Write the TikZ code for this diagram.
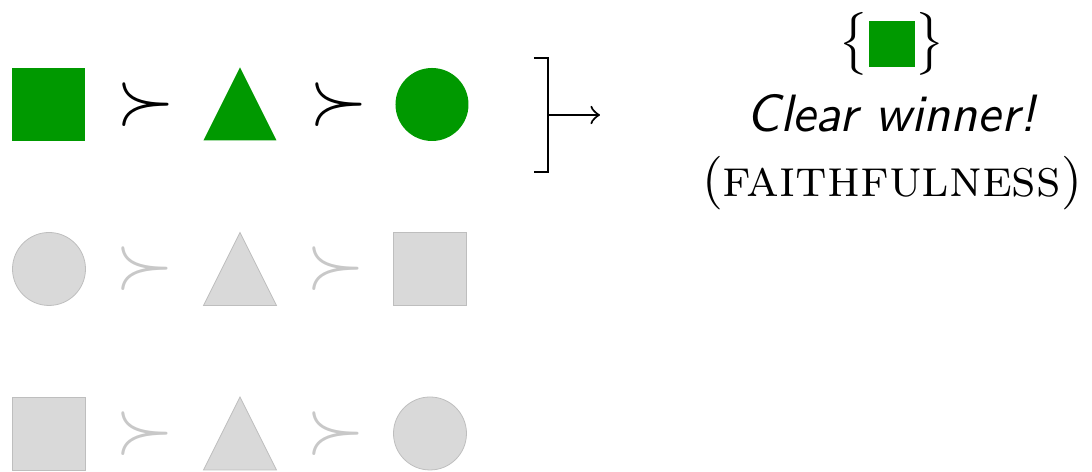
\documentclass[tikz,border=0pt]{standalone}
\usetikzlibrary{shapes.geometric}
\definecolor{winner}{RGB}{0,153,0}
\definecolor{faded}{RGB}{217,217,217}
\definecolor{fadedline}{RGB}{190,190,190}
\definecolor{fadedrel}{RGB}{200,200,200}
\tikzset{
  shapebase/.style={inner sep=0pt, outer sep=0pt},
  sq/.style={shapebase, rectangle, minimum size=73*0.1905pt},
  circ/.style={shapebase, circle, minimum size=73*0.1905pt},
  % triangles are placed by their apex
  tri/.style={shapebase, isosceles triangle, isosceles triangle stretches,
    shape border rotate=90, minimum width=73*0.1905pt, minimum height=73*0.1905pt,
    anchor=apex},
  win/.style={fill=winner},
  lose/.style={fill=faded, draw=fadedline, line width=0.15pt},
  rel/.style={inner sep=0pt, font=\Large},
  winrel/.style={rel, text=black},
  loserel/.style={rel, text=fadedrel},
  outcome/.style={inner sep=0pt, anchor=base},
}
\begin{document}
\begin{tikzpicture}[x=0.1905pt, y=0.1905pt]
\useasboundingbox (0,0) rectangle (1092,-472);
% first ordering
\node[sq, win]   (a1) at (49,-104.5) {};
\node[winrel]    (p1) at (146,-104.5) {$\succ$};
\node[tri, win]  (b1) at (240,-67.5) {};
\node[winrel]    (q1) at (339,-104.5) {$\succ$};
\node[circ, win] (c1) at (432,-104.5) {};
% second ordering
\node[circ, lose] (a2) at (49,-269) {};
\node[loserel]    (p2) at (145,-269) {$\succ$};
\node[tri, lose]  (b2) at (240,-232.5) {};
\node[loserel]    (q2) at (336,-269) {$\succ$};
\node[sq, lose]   (c2) at (430,-269) {};
% third ordering
\node[sq, lose]   (a3) at (49,-433.5) {};
\node[loserel]    (p3) at (145,-433.5) {$\succ$};
\node[tri, lose]  (b3) at (240,-397) {};
\node[loserel]    (q3) at (336,-433.5) {$\succ$};
\node[circ, lose] (c3) at (430,-433.5) {};
% bracket and arrow
\coordinate (bt) at (548,-58);
\coordinate (bb) at (548,-172);
\coordinate (bm) at (548,-115);
\coordinate (tip) at (600,-115);
\draw[line width=0.4pt] ([xshift=-14*0.1905pt]bt) -- (bt) -- (bb) -- ([xshift=-14*0.1905pt]bb);
\draw[->, line width=0.4pt] (bm) -- (tip);
% outcome
\node[inner sep=0pt] (set) at (892,-44) {$\bigl\{\vcenter{\hbox{\color{winner}\rule{8.6pt}{8.6pt}}}\bigr\}$};
\node[outcome] (msg) at (892,-132) {\textsf{\textit{Clear winner!}}};
\node[outcome, font=\fontsize{10.2pt}{12pt}\selectfont] (con) at (892,-197) {(\textsc{faithfulness})};
\end{tikzpicture}
\end{document}
